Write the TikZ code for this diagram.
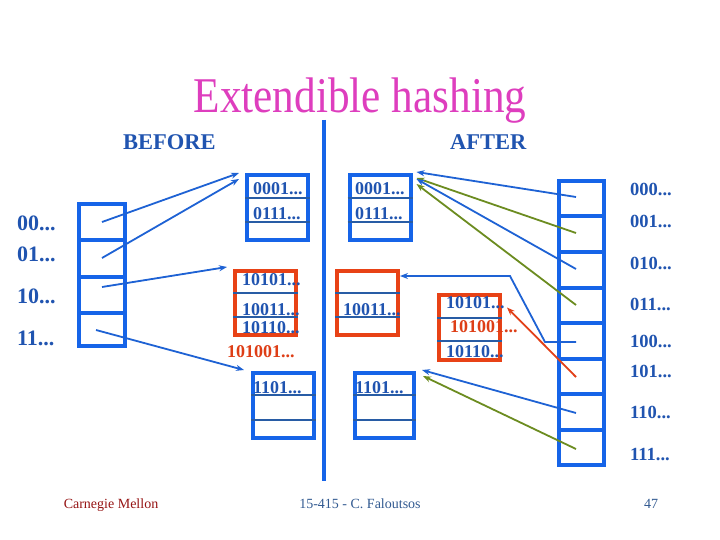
\documentclass[tikz,border=0pt]{standalone}
\usepackage{fontspec}
\setmainfont{Liberation Serif}
\usetikzlibrary{arrows.meta,calc}
\definecolor{boxblue}{RGB}{22,100,232}
\definecolor{boxred}{RGB}{232,66,22}
\definecolor{textblue}{RGB}{32,84,176}
\definecolor{sepblue}{RGB}{40,92,165}
\definecolor{arrblue}{RGB}{30,98,212}
\definecolor{arrgreen}{RGB}{108,140,32}
\definecolor{arrred}{RGB}{226,64,24}
\definecolor{redtext}{RGB}{222,62,22}
\definecolor{titlemag}{RGB}{222,62,190}
\definecolor{cmured}{RGB}{150,20,20}
\definecolor{footblue}{RGB}{50,90,145}
\tikzset{
  bucketblue/.style={draw=boxblue, line width=4pt, rectangle, inner sep=0pt, minimum width=61pt, minimum height=65pt},
  bucketred/.style={draw=boxred, line width=4pt, rectangle, inner sep=0pt, minimum width=61pt, minimum height=64pt},
  dircell/.style={draw=boxblue, line width=4pt, rectangle, inner sep=0pt},
  sepline/.style={draw=sepblue, line width=1.6pt},
  btext/.style={text=textblue, font=\bfseries\fontsize{18}{18}\selectfont, anchor=base west, inner sep=0pt},
  rtext/.style={text=redtext, font=\bfseries\fontsize{18}{18}\selectfont, anchor=base west, inner sep=0pt},
  dlabel/.style={text=textblue, font=\bfseries\fontsize{22}{22}\selectfont, anchor=base west, inner sep=0pt},
  rlabel/.style={text=textblue, font=\bfseries\fontsize{18.5}{18.5}\selectfont, anchor=base west, inner sep=0pt},
  headtext/.style={text=textblue, font=\bfseries\fontsize{22.5}{22.5}\selectfont, anchor=base west, inner sep=0pt},
  arrb/.style={draw=arrblue, line width=1.8pt, -{Stealth[length=8pt,width=6pt]}},
  arrg/.style={draw=arrgreen, line width=1.8pt, -{Stealth[length=8pt,width=6pt]}},
  arrr/.style={draw=arrred, line width=1.8pt, -{Stealth[length=8pt,width=6pt]}},
  foot/.style={anchor=base, inner sep=0pt, font=\fontsize{14}{14}\selectfont}
}
\begin{document}
\begin{tikzpicture}[x=1pt,y=-1pt]
\useasboundingbox (0,0) rectangle (720,540);
\fill[white] (0,0) rectangle (720,540);

% title and headings
\node[anchor=base, inner sep=0pt, text=titlemag, font=\fontsize{50}{50}\selectfont] (title) at (360,113) {\scalebox{0.865}[1]{Extendible hashing}};
\node[headtext] (before) at (123,150) {BEFORE};
\node[headtext] (after) at (450,150) {AFTER};
\draw[draw=boxblue, line width=4pt] (324,120) -- (324,481);

% BEFORE: directory
\node[dircell, minimum width=46pt, minimum height=36pt] (dl0) at (102,222) {};
\node[dircell, minimum width=46pt, minimum height=37pt] (dl1) at (102,258.5) {};
\node[dircell, minimum width=46pt, minimum height=36pt] (dl2) at (102,295) {};
\node[dircell, minimum width=46pt, minimum height=33pt] (dl3) at (102,329.5) {};
\node[dlabel] (l00) at (17,230) {00...};
\node[dlabel] (l01) at (17,261) {01...};
\node[dlabel] (l10) at (17,303) {10...};
\node[dlabel] (l11) at (17,345) {11...};

% BEFORE: buckets
\node[bucketblue] (bA) at (277.5,207.5) {};
\draw[sepline] (bA.west |- 0,198) -- (bA.east |- 0,198);
\draw[sepline] (bA.west |- 0,222) -- (bA.east |- 0,222);
\node[btext] (tA1) at (253,195) {0001...};
\node[btext] (tA2) at (253,219) {0111...};

\node[bucketred] (bB) at (265.5,303) {};
\draw[sepline] (bB.west |- 0,293) -- (bB.east |- 0,293);
\draw[sepline] (bB.west |- 0,317) -- (bB.east |- 0,317);
\node[btext] (tB1) at (242,285) {10101...};
\node[btext] (tB2) at (242,315) {10011...};
\node[btext] (tB3) at (242,333) {10110...};
\node[rtext] (tB4) at (227,357) {101001...};

\node[bucketblue] (bC) at (283.5,405.5) {};
\draw[sepline] (bC.west |- 0,395) -- (bC.east |- 0,395);
\draw[sepline] (bC.west |- 0,420) -- (bC.east |- 0,420);
\node[btext] (tC1) at (253,393) {1101...};

% BEFORE: pointers
\coordinate (s0) at (102,222);
\coordinate (s1) at (102,258);
\coordinate (s2) at (102,287);
\coordinate (s3) at (96,330);
\draw[arrb] (s0) -- ($(bA.north west)+(-6,0)$);
\draw[arrb] (s1) -- ($(bA.north west)+(-6,6)$);
\draw[arrb] (s2) -- ($(bB.north west)+(-6,-2)$);
\draw[arrb] (s3) -- ($(bC.north west)+(-7,-1)$);

% AFTER: buckets
\node[bucketblue] (aA) at (380,207.5) {};
\draw[sepline] (aA.west |- 0,198) -- (aA.east |- 0,198);
\draw[sepline] (aA.west |- 0,222) -- (aA.east |- 0,222);
\node[btext] (uA1) at (355,195) {0001...};
\node[btext] (uA2) at (355,219) {0111...};

\node[bucketred] (aB) at (367.5,303) {};
\draw[sepline] (aB.west |- 0,293) -- (aB.east |- 0,293);
\draw[sepline] (aB.west |- 0,317) -- (aB.east |- 0,317);
\node[btext] (uB1) at (343,315) {10011...};

\node[bucketblue, minimum width=59pt] (aC) at (384.5,405.5) {};
\draw[sepline] (aC.west |- 0,395) -- (aC.east |- 0,395);
\draw[sepline] (aC.west |- 0,420) -- (aC.east |- 0,420);
\node[btext] (uC1) at (355,393) {1101...};

\node[bucketred, minimum height=65pt] (aD) at (469.5,327.5) {};
\draw[sepline] (aD.west |- 0,318) -- (aD.east |- 0,318);
\draw[sepline] (aD.west |- 0,341) -- (aD.east |- 0,341);
\node[btext] (uD1) at (446,308) {10101...};
\node[rtext] (uD2) at (450,332) {101001...};
\node[btext] (uD3) at (446,357) {10110...};

% AFTER: directory
\foreach \i/\lab/\base in {0/000/196,1/001/227,2/010/269,3/011/310,4/100/347,5/101/377,6/110/418,7/111/460}{
  \node[dircell, minimum width=45pt, minimum height=35.5pt] (dr\i) at (581.5,{198.75+35.5*\i}) {};
  \node[rlabel] (rl\i) at (630,\base) {\lab...};
}
\coordinate (r0) at (576,197);
\coordinate (r1) at (576,233);
\coordinate (r2) at (576,269);
\coordinate (r3) at (576,305);
\coordinate (r4) at (576,342);
\coordinate (r5) at (576,377);
\coordinate (r6) at (576,413);
\coordinate (r7) at (576,449);

\draw[arrb] (r0) -- ($(aA.north east)+(4,-1)$);
\draw[arrg] (r1) -- ($(aA.north east)+(4,5)$);
\draw[arrb] (r2) -- ($(aA.north east)+(4,6)$);
\draw[arrg] (r3) -- ($(aA.north east)+(4,11)$);
\draw[arrb] (r4) -- (545,342) -- (510,276) -- (aB.east |- 0,276);
\draw[arrr] (r5) -- ($(aD.east)+(5,-20)$);
\draw[arrb] (r6) -- ($(aC.north east)+(6,-1)$);
\draw[arrg] (r7) -- ($(aC.north east)+(7,5)$);

% footer
\node[foot, text=cmured] (cmu) at (111,508) {Carnegie Mellon};
\node[foot, text=footblue] (course) at (360,508) {15-415 - C. Faloutsos};
\node[foot, text=footblue] (page) at (651,508) {47};
\end{tikzpicture}
\end{document}
